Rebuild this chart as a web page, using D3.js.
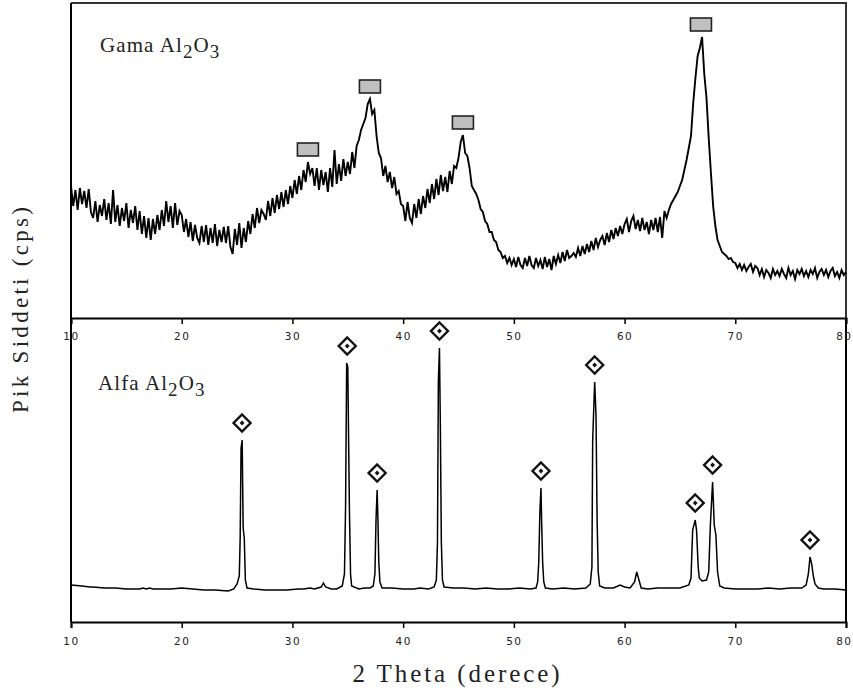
<!DOCTYPE html>
<html>
<head>
<meta charset="utf-8">
<script src="https://cdn.jsdelivr.net/npm/d3@7"></script>
<style>
  body { margin: 0; background: #fff; }
  svg { display: block; }
</style>
</head>
<body>
<svg id="chart" width="853" height="697"></svg>
<script>
// 2-theta range and ticks
var thetaMin = 10, thetaMax = 80;
var majorTicks = [10, 20, 30, 40, 50, 60, 70, 80];
var minorTicks = [15, 25, 35, 45, 55, 65, 75];

// Gama Al2O3 pattern, every 0.2 deg from 10 to 80 (arbitrary cps)
var gamaStart = 10, gamaStep = 0.2;
var gamaCps = [
  132,112,128,108,130,114,127,110,129,106,
  100,117,96,113,102,119,98,115,94,128,
  96,113,92,110,97,115,90,108,95,112,
  88,107,84,102,80,100,78,99,84,103,
  88,108,92,117,96,112,90,115,93,107,
  103,86,99,81,96,77,93,80,75,92,
  76,93,73,90,75,94,72,88,76,91,
  75,92,71,64,89,73,95,70,90,76,
  97,84,104,90,110,95,108,104,98,117,
  102,120,105,123,109,126,111,128,114,132,
  120,138,124,142,128,148,136,156,144,150,
  132,150,128,148,133,146,126,150,131,168,
  134,154,137,159,142,156,144,166,150,172,
  178,188,194,200,214,219,204,208,182,165,
  160,142,152,136,146,130,141,124,127,114,
  112,97,116,100,95,114,100,119,104,122,
  110,129,115,134,119,139,123,143,127,141,
  126,147,134,152,150,160,176,183,165,162,
  150,132,128,124,118,109,106,97,94,86,
  86,78,76,68,66,60,62,55,60,53,
  59,51,61,53,50,60,52,62,53,50,
  60,52,58,49,61,51,59,48,62,54,
  63,55,66,57,68,60,62,65,61,70,
  62,72,64,74,66,77,68,80,71,78,
  82,73,85,76,88,79,90,82,92,84,
  94,99,86,97,102,89,98,87,100,88,
  96,84,98,88,100,86,101,80,107,100,
  108,114,118,122,126,132,138,148,158,170,
  182,215,240,262,270,281,244,220,180,145,
  112,92,78,72,66,64,62,59,60,56,
  55,50,54,48,53,47,51,54,46,52,
  50,43,49,41,48,45,40,49,43,47,
  42,49,44,40,50,43,47,39,48,44,
  49,42,47,41,48,44,50,40,46,49,
  43,48,41,47,50,42,46,40,48,43,
  46
];
var gamaPeaks = [31.4, 37.0, 45.4, 66.9];

// Alfa Al2O3 pattern as [2theta, cps]
var alfa = [
  [10,37],[11,36],[11.7,35],[12,35],[13,34],[14,34],[15,33],[16.2,33],[16.5,34],[16.8,33],
  [17.1,34],[17.4,33],[18,33],[19,33],[20,34],[21,33],[22,32],[23,32],[24.2,31],[24.7,33],
  [25.0,38],[25.2,46],[25.28,84],[25.36,174],[25.46,182],[25.55,94],[25.65,84],[25.75,42],[25.9,34],
  [26.5,33],[27.5,32],[28.5,32],[29.5,32],[30.5,33],[31,33],[31.6,34],[32.0,33],[32.6,35],[32.8,39],
  [33.0,35],[33.5,33],[34.0,33],[34.5,36],[34.7,48],[34.8,115],[34.9,259],[35.0,255],[35.15,110],
  [35.25,48],[35.35,36],[36.0,33],[36.5,34],[37.0,34],[37.3,36],[37.45,48],[37.55,102],[37.65,132],
  [37.72,104],[37.8,60],[37.9,40],[38.1,34],[39,34],[40,33],[41,33],[41.5,34],[42.3,33],[42.8,35],
  [43.0,42],[43.1,79],[43.18,240],[43.28,274],[43.36,197],[43.45,80],[43.55,42],[43.7,35],[44.5,34],
  [45.5,34],[46.5,33],[47.5,34],[48.5,33],[49.5,33],[50.5,34],[51.5,33],[52.0,34],[52.15,40],
  [52.25,60],[52.35,110],[52.45,134],[52.52,95],[52.6,60],[52.7,40],[52.85,34],[53.5,33],[54.5,34],
  [55.5,33],[56.5,34],[56.9,38],[57.05,55],[57.12,182],[57.3,240],[57.42,207],[57.52,102],[57.62,50],
  [57.75,36],[58.2,34],[59.0,34],[59.6,37],[60.0,35],[60.5,34],[60.9,40],[61.1,50],[61.3,42],
  [61.5,34],[62.1,33],[63,34],[64,34],[65,34],[65.8,37],[66.0,44],[66.15,92],[66.38,102],[66.5,92],
  [66.65,55],[66.75,44],[67.0,41],[67.4,42],[67.6,50],[67.75,97],[67.95,140],[68.1,97],[68.25,87],
  [68.4,50],[68.6,36],[69.0,34],[70.0,33],[71.0,33],[72.0,33],[73.0,34],[74.0,33],[75.0,34],
  [76.0,34],[76.4,37],[76.6,48],[76.75,65],[76.9,58],[77.05,46],[77.2,38],[77.5,34],[78,33],[79,33],[80,32]
];
var alfaPeaks = [25.45, 34.95, 37.65, 43.28, 52.45, 57.3, 66.38, 67.95, 76.75];

var svg = d3.select("#chart");
// note: "top" is taken by window.top, so use other names
var plotL = 71, plotR = 846, plotT = 3, plotM = 318, plotB = 622;

var x = d3.scaleLinear().domain([thetaMin, thetaMax]).range([plotL, plotR]);
var yTop = d3.scaleLinear().domain([0, 315]).range([plotM, plotT]);
var yBot = d3.scaleLinear().domain([0, 304]).range([plotB, plotM]);

var gama = gamaCps.map(function (v, i) { return [gamaStart + i * gamaStep, v]; });

// frame of upper panel (top and right edges)
svg.append("path")
  .attr("d", "M" + plotL + "," + plotT + "H" + plotR + "V" + plotM)
  .attr("fill", "none").attr("stroke", "#333").attr("stroke-width", 2);
// left axis line and right edge of lower panel
svg.append("line").attr("x1", plotL).attr("x2", plotL).attr("y1", plotT).attr("y2", plotB)
  .attr("stroke", "#000").attr("stroke-width", 2);
svg.append("line").attr("x1", plotR).attr("x2", plotR).attr("y1", plotM).attr("y2", plotB)
  .attr("stroke", "#000").attr("stroke-width", 2);

function drawAxis(yPos, pad) {
  var g = svg.append("g").attr("transform", "translate(0," + yPos + ")");
  g.call(d3.axisBottom(x).tickValues(minorTicks).tickSize(4).tickFormat(""));
  g.call(d3.axisBottom(x).tickValues(majorTicks).tickSize(6).tickPadding(pad).tickFormat(d3.format("d")));
  g.selectAll(".domain").attr("stroke", "#000").attr("stroke-width", 2);
  g.selectAll(".tick line").attr("stroke", "#000").attr("stroke-width", 1.5);
  g.selectAll(".tick text")
    .attr("font-family", "DejaVu Sans").attr("font-size", 10.5)
    .attr("letter-spacing", 1.5).attr("fill", "#222");
  // last label sits against the right edge of the page
  g.selectAll(".tick text").filter(function (d) { return d === thetaMax; })
    .attr("text-anchor", "end").attr("x", 6);
}
drawAxis(plotM, 9);
drawAxis(plotB, 10);

var lineTop = d3.line().x(function (d) { return x(d[0]); }).y(function (d) { return yTop(d[1]); });
var lineBot = d3.line().x(function (d) { return x(d[0]); }).y(function (d) { return yBot(d[1]); });

svg.append("path").datum(gama).attr("d", lineTop)
  .attr("fill", "none").attr("stroke", "#000").attr("stroke-width", 1.9);
svg.append("path").datum(alfa).attr("d", lineBot)
  .attr("fill", "none").attr("stroke", "#000").attr("stroke-width", 1.5);

function peakTop(data, t) {
  return d3.max(data.filter(function (d) { return Math.abs(d[0] - t) <= 0.35; }), function (d) { return d[1]; });
}

// grey box markers above gama peaks
gamaPeaks.forEach(function (t) {
  var yy = yTop(peakTop(gama, t)) - 6;
  svg.append("rect")
    .attr("x", x(t) - 10.5).attr("y", yy - 13).attr("width", 21).attr("height", 13)
    .attr("fill", "#c0c0c0").attr("stroke", "#222").attr("stroke-width", 1.6);
});

// diamond markers above alfa peaks
alfaPeaks.forEach(function (t) {
  var cx = x(t), cy = yBot(peakTop(alfa, t)) - 17;
  var r = 8.5, r2 = 2.4;
  svg.append("path")
    .attr("d", "M" + cx + "," + (cy - r) + "L" + (cx + r) + "," + cy + "L" + cx + "," + (cy + r) + "L" + (cx - r) + "," + cy + "Z")
    .attr("fill", "#fff").attr("stroke", "#111").attr("stroke-width", 2.4);
  svg.append("path")
    .attr("d", "M" + cx + "," + (cy - r2) + "L" + (cx + r2) + "," + cy + "L" + cx + "," + (cy + r2) + "L" + (cx - r2) + "," + cy + "Z")
    .attr("fill", "#111");
});

// phase labels with subscripts
function phaseLabel(xp, yp, name) {
  var t = svg.append("text").attr("x", xp).attr("y", yp)
    .attr("font-family", "Liberation Serif").attr("font-size", 21)
    .attr("letter-spacing", 1.1).attr("fill", "#222");
  t.append("tspan").text(name + " Al");
  t.append("tspan").attr("dy", 6).attr("font-size", 19).text("2");
  t.append("tspan").attr("dy", -6).text("O");
  t.append("tspan").attr("dy", 6).attr("font-size", 19).text("3");
}
phaseLabel(100, 52, "Gama");
phaseLabel(98, 390, "Alfa");

// axis titles
svg.append("text")
  .attr("transform", "translate(28,310) rotate(-90)")
  .attr("text-anchor", "middle")
  .attr("font-family", "Liberation Serif").attr("font-size", 23)
  .attr("textLength", 206).attr("lengthAdjust", "spacing")
  .attr("fill", "#222")
  .text("Pik Siddeti (cps)");

svg.append("text")
  .attr("x", 456).attr("y", 682)
  .attr("text-anchor", "middle")
  .attr("font-family", "Liberation Serif").attr("font-size", 25)
  .attr("textLength", 207).attr("lengthAdjust", "spacing")
  .attr("fill", "#222")
  .text("2 Theta (derece)");
</script>
</body>
</html>
